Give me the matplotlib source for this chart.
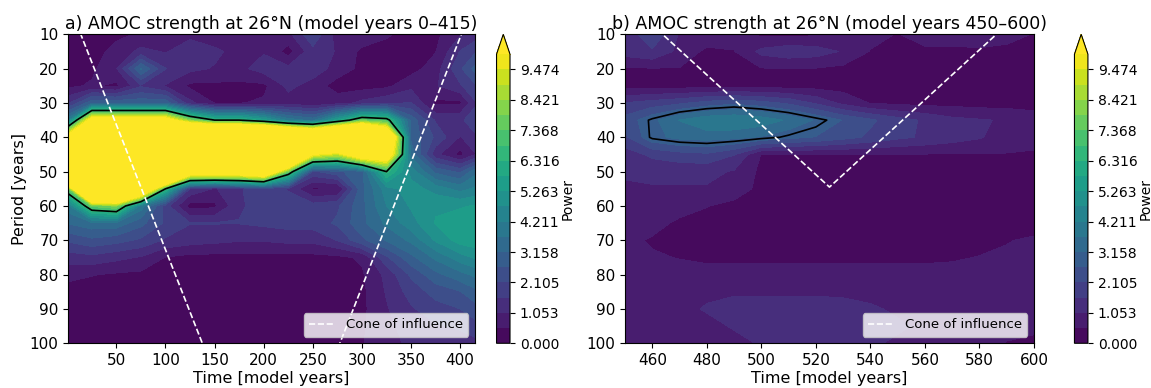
import matplotlib
matplotlib.use("Agg")
import matplotlib.pyplot as plt
import numpy as np

# ---- data (wavelet power, period x time) ----
time_a = [1, 25, 50, 75, 100, 125, 150, 175, 200, 225, 250, 275, 300, 325, 350, 375, 400, 415]
time_b = [450, 460, 470, 480, 490, 500, 510, 520, 530, 540, 550, 560, 570, 580, 590, 600]
period = [10, 15, 20, 25, 30, 35, 40, 45, 50, 55, 60, 65, 70, 75, 80, 85, 90, 95, 100]

power_a = np.array([
    [0.3, 0.5, 0.4, 0.6, 0.8, 0.9, 0.6, 0.5, 0.5, 0.9, 2.0, 0.8, 0.9, 0.6, 0.3, 0.4, 1.0, 1.3],
    [0.3, 0.3, 0.7, 1.2, 1.0, 1.4, 1.2, 0.8, 1.0, 0.3, 1.4, 1.0, 0.4, 0.3, 0.3, 0.5, 1.6, 2.0],
    [0.3, 0.4, 1.0, 3.2, 1.6, 1.2, 1.0, 0.9, 1.3, 1.2, 1.4, 0.8, 0.4, 0.3, 0.3, 0.8, 2.0, 2.8],
    [0.4, 0.6, 0.4, 1.5, 1.0, 0.4, 0.4, 0.4, 0.4, 1.2, 0.8, 0.3, 0.3, 0.4, 0.9, 1.0, 1.5, 2.0],
    [1.5, 3.0, 3.0, 3.0, 3.0, 1.2, 0.5, 0.5, 0.6, 0.8, 0.6, 0.8, 1.2, 1.5, 1.6, 0.4, 0.4, 1.5],
    [4.0, 11, 11, 11, 11, 8.0, 6.5, 6.5, 5.5, 4.0, 3.5, 5.5, 7.5, 7.0, 3.0, 1.5, 1.5, 1.8],
    [11, 20, 20, 20, 20, 20, 20, 20, 20, 18, 16, 18, 20, 14, 3.0, 2.0, 1.0, 1.5],
    [20, 20, 20, 20, 20, 20, 20, 20, 20, 18, 10, 9.0, 12, 12, 3.5, 1.2, 0.35, 1.0],
    [20, 20, 20, 20, 20, 12, 12, 12, 13, 7.5, 2.0, 2.5, 3.0, 6.5, 4.5, 3.0, 2.5, 3.5],
    [7.5, 20, 20, 14, 6.5, 1.5, 1.0, 1.5, 2.0, 1.5, 0.45, 0.45, 3.0, 4.5, 5.0, 4.5, 4.0, 4.3],
    [4.0, 7.5, 8.0, 4.0, 1.8, 0.3, 0.4, 1.5, 1.8, 2.0, 1.8, 2.0, 3.0, 4.2, 4.8, 5.2, 5.2, 5.3],
    [3.2, 3.5, 3.5, 2.8, 2.0, 1.6, 1.6, 1.6, 1.7, 1.8, 1.8, 2.2, 3.0, 3.8, 4.5, 5.3, 5.6, 5.7],
    [2.2, 2.5, 2.3, 2.0, 1.5, 1.3, 1.2, 1.1, 1.1, 1.2, 1.2, 1.6, 2.5, 3.2, 3.8, 4.8, 5.5, 5.6],
    [1.3, 1.4, 1.2, 1.0, 0.5, 0.35, 0.35, 0.35, 0.35, 0.35, 0.35, 0.4, 0.6, 2.0, 3.0, 3.8, 4.5, 4.8],
    [0.65, 0.55, 0.45, 0.4, 0.3, 0.3, 0.3, 0.3, 0.3, 0.3, 0.3, 0.3, 0.45, 1.2, 2.2, 3.0, 3.5, 3.8],
    [0.35, 0.3, 0.3, 0.3, 0.3, 0.3, 0.3, 0.3, 0.3, 0.3, 0.3, 0.3, 0.4, 1.1, 1.8, 2.3, 2.6, 3.0],
    [0.3, 0.3, 0.3, 0.3, 0.3, 0.3, 0.3, 0.3, 0.3, 0.3, 0.3, 0.3, 0.4, 1.0, 1.5, 1.9, 2.1, 2.4],
    [0.3, 0.3, 0.3, 0.3, 0.3, 0.3, 0.3, 0.3, 0.3, 0.3, 0.3, 0.3, 0.45, 0.9, 1.3, 1.5, 1.7, 1.9],
    [0.3, 0.3, 0.3, 0.3, 0.3, 0.3, 0.3, 0.3, 0.3, 0.3, 0.3, 0.3, 0.5, 0.8, 1.2, 1.2, 1.2, 1.4],
])

power_b = np.array([
    [1.2, 2.0, 1.0, 0.9, 0.8, 0.4, 0.4, 0.45, 0.6, 0.7, 0.5, 0.8, 0.8, 0.8, 0.7, 0.5],
    [1.3, 1.5, 0.9, 0.4, 0.5, 1.2, 1.4, 1.3, 1.0, 0.5, 0.4, 0.4, 0.4, 0.45, 0.4, 0.35],
    [0.45, 0.5, 0.5, 0.5, 0.5, 0.5, 0.5, 0.5, 0.4, 0.35, 0.3, 0.3, 0.3, 0.3, 0.3, 0.3],
    [0.3, 0.3, 0.3, 0.3, 0.3, 0.3, 0.3, 0.3, 0.3, 0.3, 0.3, 0.3, 0.3, 0.3, 0.3, 0.3],
    [1.6, 1.8, 2.0, 2.3, 2.5, 2.3, 2.0, 1.5, 0.9, 0.5, 0.4, 0.35, 0.35, 0.3, 0.3, 0.3],
    [2.3, 3.0, 3.7, 4.1, 4.2, 4.0, 3.6, 3.1, 2.6, 2.2, 1.8, 1.5, 1.2, 1.1, 1.0, 0.8],
    [2.0, 3.0, 3.3, 3.4, 3.3, 3.1, 2.8, 2.6, 2.3, 2.0, 1.7, 1.5, 1.3, 1.1, 0.8, 0.6],
    [1.3, 1.7, 1.9, 2.0, 1.6, 0.5, 0.5, 0.5, 0.5, 0.5, 0.5, 0.5, 0.5, 0.5, 0.5, 0.5],
    [1.1, 1.2, 1.2, 1.2, 1.0, 0.4, 0.3, 0.3, 0.3, 0.3, 0.3, 0.3, 0.3, 0.3, 0.3, 0.3],
    [1.0, 1.0, 1.0, 1.0, 0.85, 0.35, 0.3, 0.3, 0.3, 0.3, 0.3, 0.3, 0.3, 0.3, 0.3, 0.3],
    [0.9, 0.9, 0.8, 0.55, 0.35, 0.3, 0.3, 0.3, 0.3, 0.3, 0.3, 0.3, 0.3, 0.3, 0.3, 0.3],
    [0.8, 0.75, 0.4, 0.3, 0.3, 0.3, 0.3, 0.3, 0.3, 0.3, 0.3, 0.3, 0.3, 0.3, 0.3, 0.3],
    [0.7, 0.45, 0.3, 0.3, 0.3, 0.3, 0.3, 0.3, 0.3, 0.3, 0.3, 0.3, 0.3, 0.3, 0.5, 0.6],
    [0.7, 0.6, 0.5, 0.4, 0.4, 0.4, 0.4, 0.4, 0.4, 0.4, 0.4, 0.4, 0.45, 0.55, 0.6, 0.7],
    [0.75, 0.75, 0.75, 0.75, 0.75, 0.75, 0.75, 0.75, 0.75, 0.75, 0.75, 0.75, 0.75, 0.75, 0.75, 0.75],
    [0.8, 0.8, 0.85, 0.95, 1.0, 1.0, 1.0, 1.0, 1.0, 0.95, 0.9, 0.85, 0.8, 0.8, 0.8, 0.8],
    [0.8, 0.8, 0.9, 1.1, 1.2, 1.2, 1.2, 1.2, 1.15, 1.1, 1.0, 0.9, 0.8, 0.8, 0.8, 0.8],
    [0.8, 0.8, 0.8, 0.9, 1.1, 1.2, 1.25, 1.25, 1.2, 1.15, 1.1, 1.0, 0.9, 0.8, 0.7, 0.6],
    [0.8, 0.8, 0.8, 0.8, 0.9, 1.1, 1.2, 1.2, 1.15, 1.1, 1.0, 0.9, 0.8, 0.7, 0.5, 0.45],
])

# significance contour level (power units) for each panel
sig_level_a = 6.5
sig_level_b = 2.9

# cone of influence vertices (time, period)
coi_a_time = [0, 207.5, 415]
coi_a_period = [0, 150.9, 0]
coi_b_time = [450, 525, 600]
coi_b_period = [0, 54.5, 0]

titles = ["a) AMOC strength at 26°N (model years 0–415)",
          "b) AMOC strength at 26°N (model years 450–600)"]

levels = np.linspace(0, 10, 20)

fig = plt.figure(figsize=(11.51, 3.88), dpi=100)
ax_a = fig.add_axes([0.0593, 0.1152, 0.3533, 0.7964])
cax_a = fig.add_axes([0.4314, 0.1152, 0.0117, 0.7964])
ax_b = fig.add_axes([0.5430, 0.1152, 0.3553, 0.7964])
cax_b = fig.add_axes([0.9335, 0.1152, 0.0117, 0.7964])

panels = [
    (ax_a, cax_a, time_a, power_a, sig_level_a, coi_a_time, coi_a_period, (1, 415)),
    (ax_b, cax_b, time_b, power_b, sig_level_b, coi_b_time, coi_b_period, (450, 600)),
]

for i, (ax, cax, t, pw, sig, ct, cp, xlim) in enumerate(panels):
    T, P = np.meshgrid(t, period)
    cf = ax.contourf(T, P, pw, levels=levels, cmap='viridis', extend='max')
    ax.contour(T, P, pw, levels=[sig], colors='black', linewidths=1.2)
    ax.plot(ct, cp, color='white', linestyle='--', linewidth=1.2, label='Cone of influence')
    ax.set_xlim(*xlim)
    ax.set_ylim(100, 10)
    ax.set_title(titles[i], fontsize=12.5, pad=4)
    ax.set_xlabel('Time [model years]', fontsize=11.5, labelpad=2)
    ax.tick_params(labelsize=11)
    ax.legend(loc='lower right', fontsize=9.5)

    cb = fig.colorbar(cf, cax=cax, extendfrac=0.069)
    cb.set_ticks(levels[::2])
    cb.ax.set_yticklabels([f"{v:.3f}" for v in levels[::2]])
    cb.ax.tick_params(labelsize=10)
    cb.set_label('Power', fontsize=10, labelpad=1)

ax_a.set_xticks([50, 100, 150, 200, 250, 300, 350, 400])
ax_a.set_ylabel('Period [years]', fontsize=11.5, labelpad=2)

fig.savefig('out.png', dpi=100)
